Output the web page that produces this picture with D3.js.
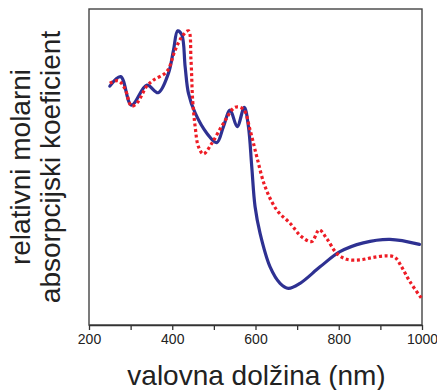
<!DOCTYPE html>
<html>
<head>
<meta charset="utf-8">
<script src="https://cdn.jsdelivr.net/npm/d3@7"></script>
<style>
  html, body { margin: 0; padding: 0; background: #fff; }
  svg { display: block; }
  text { font-family: "Liberation Sans", Arial, sans-serif; fill: #222; }
</style>
</head>
<body>
<svg id="chart" width="437" height="390"></svg>
<script>
// Wavelength (nm) and relative molar absorption (arbitrary units, 0-100)
const blueWavelength = [250, 276, 302, 339, 366, 391, 403, 413, 423, 431, 439, 455, 483, 507, 523, 539, 556, 573, 583, 591, 599, 611, 635, 659, 679, 707, 755, 803, 859, 923, 994];
const blueValues     = [75.6, 78.6, 69.6, 75.9, 73.5, 79.7, 87.0, 93.1, 91.8, 81.7, 73.3, 67.1, 60.7, 57.7, 62.8, 68.0, 62.8, 68.9, 62.8, 50.1, 37.4, 29.0, 18.4, 13.2, 11.6, 13.2, 18.4, 23.2, 26.0, 27.1, 25.5];

const redWavelength = [250, 270, 286, 302, 315, 339, 355, 387, 407, 423, 439, 445, 449, 455, 463, 475, 495, 523, 551, 571, 587, 603, 623, 651, 683, 711, 735, 753, 771, 795, 819, 851, 883, 915, 935, 951, 971, 999];
const redValues     = [76.5, 77.3, 74.9, 69.3, 70.2, 75.6, 77.5, 80.2, 87.0, 91.2, 93.1, 83.9, 71.2, 62.8, 56.4, 54.1, 57.5, 63.8, 68.9, 68.3, 61.7, 53.3, 43.8, 36.4, 32.2, 27.9, 26.4, 30.1, 27.4, 22.7, 20.8, 20.6, 21.4, 21.9, 21.4, 18.4, 13.7, 8.4];

const xTicks = [200, 300, 400, 500, 600, 700, 800, 900, 1000];
const xTickLabels = ["200", "", "400", "", "600", "", "800", "", "1000"];

const xTitle = "valovna dolžina (nm)";
const yTitleLines = ["relativni molarni", "absorpcijski koeficient"];

(function () {
const svg = d3.select("#chart");
const mLeft = 89, mRight = 422, mTop = 9, mBottom = 325;

const x = d3.scaleLinear().domain([200, 1000]).range([mLeft, mRight]);
const y = d3.scaleLinear().domain([0, 100]).range([mBottom, mTop]);

// frame
svg.append("rect")
  .attr("x", mLeft).attr("y", mTop)
  .attr("width", mRight - mLeft).attr("height", mBottom - mTop)
  .attr("fill", "none").attr("stroke", "#444").attr("stroke-width", 1.4);

// x axis
const xAxis = d3.axisBottom(x)
  .tickValues(xTicks)
  .tickSize(5)
  .tickSizeOuter(0)
  .tickPadding(4)
  .tickFormat((d, i) => xTickLabels[i]);

const gx = svg.append("g").attr("transform", `translate(0,${mBottom})`).call(xAxis);
gx.select(".domain").attr("stroke", "#333").attr("stroke-width", 1.6);
gx.selectAll(".tick line").attr("stroke", "#333").attr("stroke-width", 1.3);
gx.selectAll(".tick text")
  .style("font-family", "'Liberation Sans', Arial, sans-serif")
  .style("font-size", "14px").attr("fill", "#222");

// lines
const line = d3.line()
  .x(d => x(d[0]))
  .y(d => y(d[1]))
  .curve(d3.curveCatmullRom.alpha(0.5));

const redData = redWavelength.map((w, i) => [w, redValues[i]]);
const blueData = blueWavelength.map((w, i) => [w, blueValues[i]]);

svg.append("path")
  .datum(blueData)
  .attr("d", line)
  .attr("fill", "none")
  .attr("stroke", "#2e3192")
  .attr("stroke-width", 3.2)
  .attr("stroke-linejoin", "round")
  .attr("stroke-linecap", "round");

svg.append("path")
  .datum(redData)
  .attr("d", line)
  .attr("fill", "none")
  .attr("stroke", "#ee1c25")
  .attr("stroke-width", 3.2)
  .attr("stroke-dasharray", "3,2.6");

// titles
svg.append("text")
  .attr("x", (mLeft + mRight) / 2 + 1)
  .attr("y", 385)
  .attr("text-anchor", "middle")
  .style("font-size", "28px")
  .text(xTitle);

const yt = svg.append("text")
  .attr("transform", `translate(0,${(mTop + mBottom) / 2}) rotate(-90)`)
  .attr("text-anchor", "middle")
  .style("font-size", "28px");
yt.selectAll("tspan")
  .data(yTitleLines)
  .join("tspan")
  .attr("x", 0)
  .attr("y", (d, i) => 30 + i * 30)
  .text(d => d);
})();
</script>
</body>
</html>
